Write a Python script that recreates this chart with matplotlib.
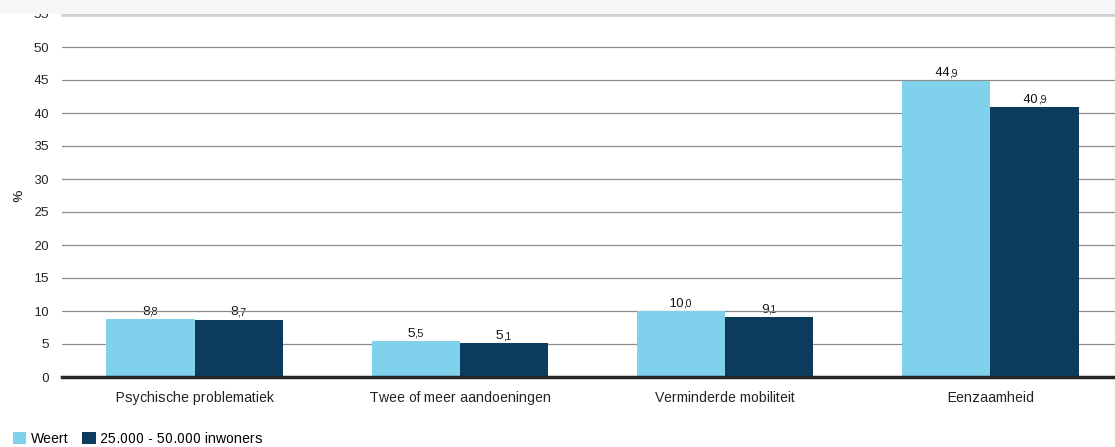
import numpy as np
import matplotlib.pyplot as plt
from matplotlib.patches import Rectangle

plt.rcParams['font.family'] = ['Liberation Sans', 'DejaVu Sans']
plt.rcParams['text.hinting_factor'] = 1

# gegevens
categorieen = ['Psychische problematiek', 'Twee of meer aandoeningen',
               'Verminderde mobiliteit', 'Eenzaamheid']
weert = [8.8, 5.5, 10.0, 44.9]
regio = [8.7, 5.1, 9.1, 40.9]
reeksen = ['Weert', '25.000 - 50.000 inwoners']
kleuren = ['#7fd1ec', '#0b3c5d']
yticks = list(range(0, 60, 5))

W, H = 1115, 447
fig = plt.figure(figsize=(W / 100, H / 100), dpi=100)
ax = fig.add_axes([62 / W, 70 / H, (1123 - 62) / W, (377 - 14) / H])

x = np.arange(len(categorieen))
bw = 0.333
ax.bar(x - bw / 2, weert, bw, color=kleuren[0], zorder=3, label=reeksen[0])
ax.bar(x + bw / 2, regio, bw, color=kleuren[1], zorder=3, label=reeksen[1])

ax.set_xlim(-0.5, 3.5)
ax.set_ylim(0, 55)
ax.set_yticks(yticks)
ax.set_yticklabels([str(t) for t in yticks], fontsize=9.5, color='#222222')
ax.set_xticks(x)
ax.set_xticklabels(categorieen, fontsize=10, color='#222222')
ax.tick_params(axis='y', length=0, pad=9)
ax.tick_params(axis='x', length=0, pad=10)
ax.yaxis.grid(True, color='#8c8c8c', linewidth=0.9, zorder=2)
ax.set_axisbelow(False)
for s in ['top', 'right', 'left']:
    ax.spines[s].set_visible(False)
ax.spines['bottom'].set_color('#262626')
ax.spines['bottom'].set_linewidth(2.5)
ax.spines['bottom'].set_zorder(4)
ax.set_ylabel('%', fontsize=9.5, color='#222222')
ax.yaxis.set_label_coords(-0.035, 0.5)

# waardelabels: gehele deel normaal, decimaal kleiner
fig.canvas.draw()
r = fig.canvas.get_renderer()
for xs, vals in [(x - bw / 2, weert), (x + bw / 2, regio)]:
    for xi, v in zip(xs, vals):
        heel, dec = f'{v:.1f}'.split('.')
        t1 = ax.annotate(heel, (xi, v), xytext=(0, 3), textcoords='offset points',
                         ha='right', va='baseline', fontsize=9.5, color='#111111', zorder=1)
        t2 = ax.annotate(',' + dec, (xi, v), xytext=(0, 3), textcoords='offset points',
                         ha='left', va='baseline', fontsize=7.5, color='#111111', zorder=1)
        w1 = t1.get_window_extent(r).width
        w2 = t2.get_window_extent(r).width
        dx = (w1 - w2) / 2 * 72 / fig.dpi
        t1.set_position((dx, 3))
        t2.set_position((dx, 3))

# legenda
leg = fig.legend(loc='lower left', bbox_to_anchor=(0.0, -0.025), ncol=2, frameon=False,
                 fontsize=10, handlelength=1.0, handleheight=1.0, handletextpad=0.3,
                 columnspacing=1.0)

# grijze balk bovenaan
fig.patches.append(Rectangle((0, 1 - 14 / H), 1, 14 / H, transform=fig.transFigure,
                             facecolor='#f5f6f8', edgecolor='none', zorder=10))
fig.lines.append(plt.Line2D([62 / W, 1], [1 - 14.5 / H, 1 - 14.5 / H], transform=fig.transFigure,
                            color='#d4d4d4', linewidth=2, zorder=10))

fig.savefig('out.png', dpi=100)
